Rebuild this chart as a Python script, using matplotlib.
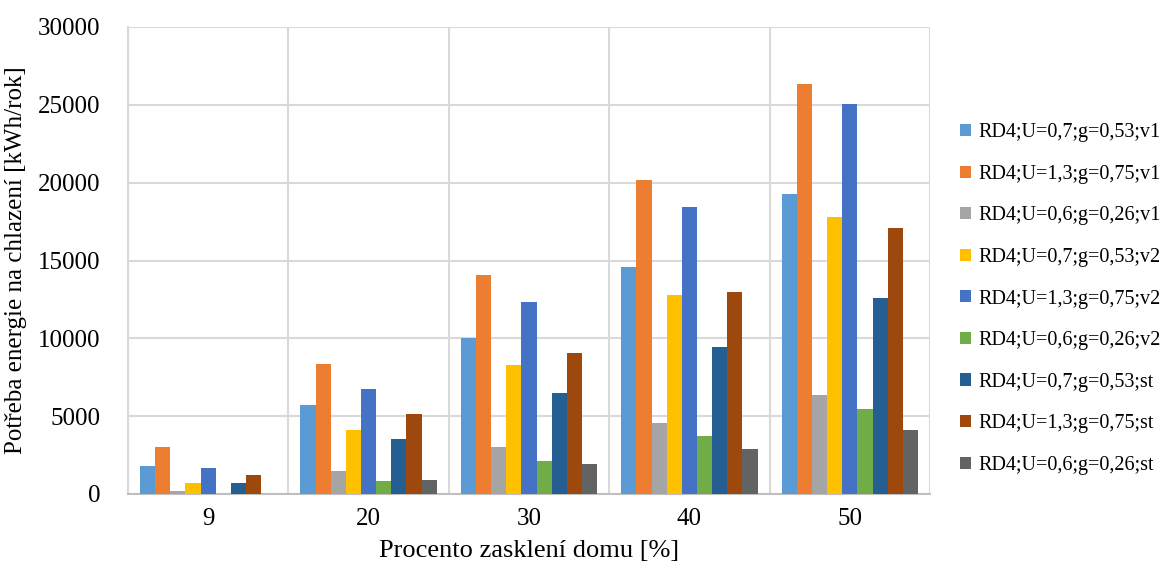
import numpy as np
import matplotlib.pyplot as plt
from matplotlib.patches import Patch

plt.rcParams['font.family'] = ['Liberation Serif', 'DejaVu Serif']

# Data
categories = ['9', '20', '30', '40', '50']
series_labels = [
    'RD4;U=0,7;g=0,53;v1',
    'RD4;U=1,3;g=0,75;v1',
    'RD4;U=0,6;g=0,26;v1',
    'RD4;U=0,7;g=0,53;v2',
    'RD4;U=1,3;g=0,75;v2',
    'RD4;U=0,6;g=0,26;v2',
    'RD4;U=0,7;g=0,53;st',
    'RD4;U=1,3;g=0,75;st',
    'RD4;U=0,6;g=0,26;st',
]
u07_v1 = [1800, 5700, 10000, 14600, 19300]
u13_v1 = [3050, 8330, 14070, 20150, 26350]
u06_v1 = [190, 1500, 3000, 4560, 6380]
u07_v2 = [690, 4130, 8290, 12790, 17780]
u13_v2 = [1700, 6750, 12360, 18420, 25050]
u06_v2 = [0, 850, 2150, 3720, 5440]
u07_st = [700, 3520, 6470, 9450, 12580]
u13_st = [1230, 5140, 9080, 12980, 17100]
u06_st = [0, 900, 1920, 2900, 4080]
series = [u07_v1, u13_v1, u06_v1, u07_v2, u13_v2, u06_v2, u07_st, u13_st, u06_st]

colors = ['#5B9BD5', '#ED7D31', '#A5A5A5', '#FFC000', '#4472C4',
          '#70AD47', '#255E91', '#9E480E', '#636363']

fig = plt.figure(figsize=(11.61, 5.65), dpi=100)
ax = fig.add_axes([128 / 1161, 1 - 494 / 565, (930 - 128) / 1161, (494 - 27) / 565])

x = np.arange(len(categories))
n = len(series)
bar_w = 0.85 / n
for i, (vals, col) in enumerate(zip(series, colors)):
    offs = (i - (n - 1) / 2) * bar_w
    ax.bar(x + offs, vals, width=bar_w, color=col, zorder=3)

ax.set_xlim(-0.5, len(categories) - 0.5)
ax.set_ylim(0, 30000)
ax.set_yticks(np.arange(0, 30001, 5000))
ax.set_xticks(x)
ax.set_xticklabels(categories)
ax.set_xticks(np.arange(-0.5, len(categories)), minor=True)
ax.grid(True, axis='y', color='#D9D9D9', linewidth=1.5, zorder=0)
ax.grid(True, axis='x', which='minor', color='#D9D9D9', linewidth=1.5, zorder=0)
ax.tick_params(axis='both', which='both', length=0, labelsize=18)
ax.tick_params(axis='x', pad=10)
ax.tick_params(axis='y', pad=20)
for s in ['top', 'right']:
    ax.spines[s].set_visible(False)
ax.spines['left'].set_color('#D9D9D9')
ax.spines['bottom'].set_color('#BFBFBF')
ax.spines['left'].set_linewidth(1.5)
ax.spines['bottom'].set_linewidth(1.5)

ax.set_xlabel('Procento zasklení domu [%]', fontsize=19, labelpad=7)
ax.set_ylabel('Potřeba energie na chlazení [kWh/rok]', fontsize=18, labelpad=8)

handles = [Patch(facecolor=c, edgecolor='none') for c in colors]
fig.legend(handles, series_labels, loc='center left', bbox_to_anchor=(950 / 1161, 1 - 299 / 565),
           frameon=False, fontsize=14.5, handlelength=0.55, handleheight=0.55,
           handletextpad=0.35, labelspacing=1.12, borderpad=0)

fig.savefig('out.png', dpi=100)
